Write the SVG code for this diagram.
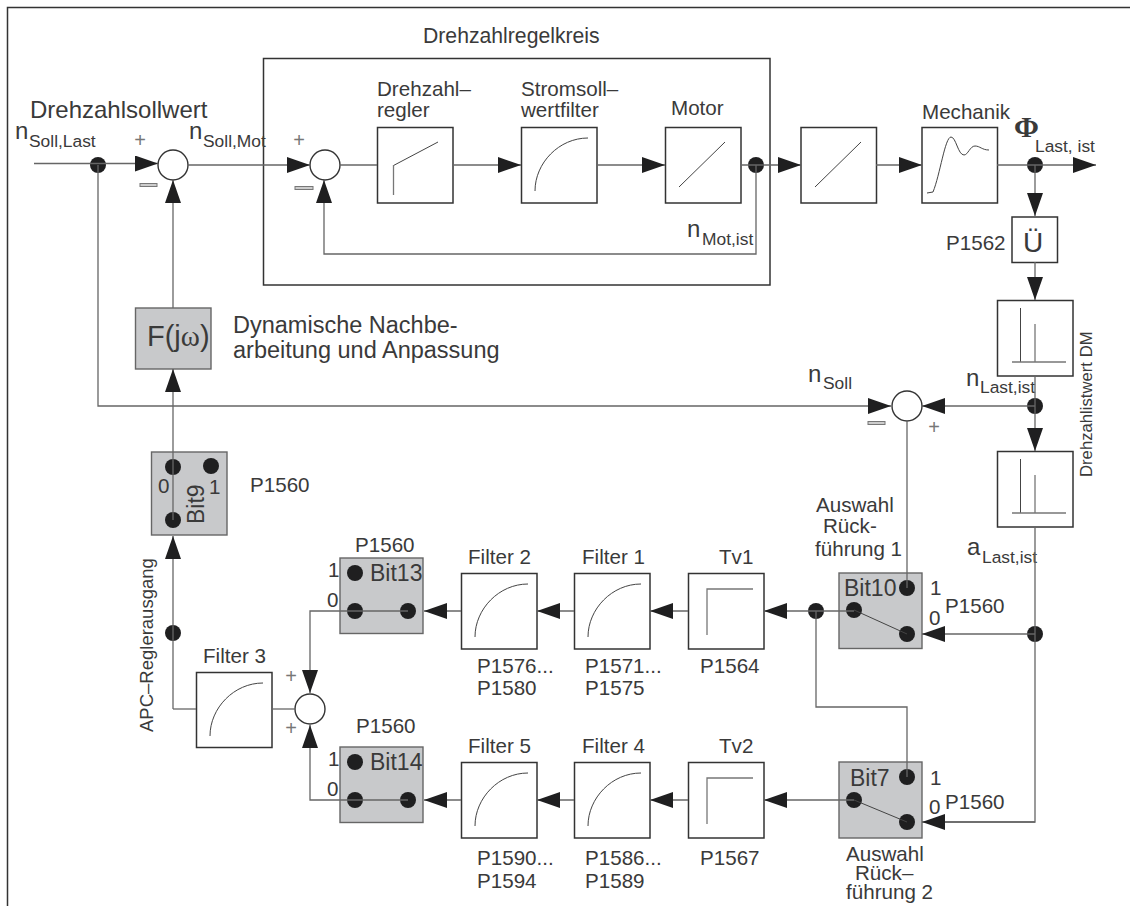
<svg xmlns="http://www.w3.org/2000/svg" width="1130" height="906" viewBox="0 0 1130 906">
<style>
text{font-family:"Liberation Sans",Arial,sans-serif;font-size:20.6px;fill:#3a3a3a}
.sub{font-size:17.4px}
.n{font-size:24px}
.bit{font-size:23px}
.frame{fill:none;stroke:#333;stroke-width:1.5}
.box{fill:#fff;stroke:#333;stroke-width:1.5}
.gray{fill:#c8c9cb;stroke:#666;stroke-width:1.4}
.sum{fill:#fff;stroke:#333;stroke-width:1.4}
.curve{fill:none;stroke:#444;stroke-width:1}
.gline{fill:none;stroke:#777;stroke-width:1.3}
.dot{fill:#1f1f20}
.plus{font-size:20px;fill:#777;text-anchor:middle}
.minus{fill:#ccc;stroke:#777;stroke-width:1}
.c{fill:none;stroke:#666;stroke-width:1.3}
.a{fill:none;stroke:#666;stroke-width:1.3;marker-end:url(#ah)}
</style>
<defs>
<marker id="ah" markerUnits="userSpaceOnUse" markerWidth="24" markerHeight="18" refX="23" refY="8" orient="auto"><path d="M0 0L23 8L0 16Z" fill="#1f1f20"/></marker>
<path id="lag" class="curve" d="M14 64C14 36 38 11 67 11"/>
<path id="tv" class="gline" d="M19 62V16H65"/>
<g id="diff"><path class="curve" d="M23.500 8V62"/><path class="gline" d="M38 24V62M15 62H69"/></g>
</defs>

<path id="page-frame" class="frame" d="M7.500 906V7.500H1130"/>
<g id="regelkreis"><rect class="frame" x="263.500" y="58.500" width="506.500" height="226.500"/><text x="423" y="43" style="font-size:21.200px">Drehzahlregelkreis</text></g>

<g id="sollwert-label"><text x="30" y="118" style="font-size:24px">Drehzahlsollwert</text><text x="15" y="139" class="n">n</text><text x="29" y="147" class="sub">Soll,Last</text></g>
<g id="sum1"><circle class="sum" cx="173" cy="165" r="15"/><text class="plus" x="140" y="147">+</text><rect class="minus" x="140" y="183.500" width="17" height="3"/></g>
<g id="soll-mot-label"><text x="189" y="139" class="n">n</text><text x="203" y="147" class="sub">Soll,Mot</text></g>
<g id="sum2"><circle class="sum" cx="325" cy="165" r="15"/><text class="plus" x="299" y="147">+</text><rect class="minus" x="295" y="186.500" width="18" height="3"/></g>

<g id="drehzahlregler"><rect class="box" x="377.500" y="127.500" width="75.500" height="75.500"/><path class="curve" d="M393.500 165.500L438 142"/><path class="gline" d="M393.500 195V165"/><text x="377" y="96">Drehzahl–</text><text x="377" y="117">regler</text></g>
<g id="stromsollwertfilter" transform="translate(521 127)"><rect class="box" x="0.500" y="0.500" width="75.500" height="75.500"/><use href="#lag"/><text x="0" y="-31">Stromsoll–</text><text x="0" y="-10">wertfilter</text></g>
<g id="motor"><rect class="box" x="665.500" y="127.500" width="75.500" height="75.500"/><path class="curve" d="M679 187L725 142"/><text x="671" y="115">Motor</text><text x="687" y="237" class="n">n</text><text x="702" y="245" class="sub">Mot,ist</text></g>
<g id="block-linear"><rect class="box" x="801" y="127.500" width="75.500" height="75.500"/><path class="curve" d="M815 187L861 142"/></g>
<g id="mechanik"><rect class="box" x="922" y="127.500" width="75.500" height="75.500"/><path class="curve" d="M927 193L933 192C940 175 945 137 951 137C956 137 958 155 964 155C968 155 970 146 975 146C980 146 982 150 989 150"/><text x="922" y="119">Mechanik</text><text x="1014" y="137" style="font-family:'Liberation Serif',serif;font-size:30px;font-weight:bold">Φ</text><text x="1035" y="152" class="sub">Last, ist</text></g>
<g id="uebersetzung"><rect class="box" x="1012" y="217" width="45.500" height="45.500"/><text x="1033" y="252" text-anchor="middle" style="font-size:28px">Ü</text><text x="946" y="250">P1562</text></g>
<g id="diff1" transform="translate(997 300)"><rect class="box" x="0.500" y="0.500" width="75.500" height="75.500"/><use href="#diff"/></g>
<g id="diff2" transform="translate(997 451)"><rect class="box" x="0.500" y="0.500" width="75.500" height="75.500"/><use href="#diff"/></g>
<text id="drehzahlistwert-label" transform="translate(1092 477) rotate(-90)" style="font-size:16.700px">Drehzahlistwert DM</text>

<g id="fjw"><rect class="gray" x="135.500" y="308" width="75.500" height="61"/><text x="147" y="346" style="font-size:29px">F(j<tspan style="font-family:'Liberation Serif',serif;font-size:29px">ω</tspan>)</text></g>
<g id="nachbearbeitung-label"><text x="233" y="333" style="font-size:23.500px">Dynamische Nachbe-</text><text x="233" y="358" style="font-size:23.500px">arbeitung und Anpassung</text></g>

<g id="sum3"><circle class="sum" cx="907" cy="406" r="15"/><text class="plus" x="934" y="434">+</text><rect class="minus" x="868" y="421.500" width="17" height="3"/><text x="808" y="382" class="n">n</text><text x="823" y="389" class="sub">Soll</text><text x="966" y="386" class="n">n</text><text x="980" y="393" class="sub">Last,ist</text></g>
<g id="a-last-label"><text x="967" y="555" class="n">a</text><text x="982" y="563" class="sub">Last,ist</text></g>

<g id="bit9"><rect class="gray" x="151.500" y="452" width="75.500" height="83"/><circle class="dot" cx="173" cy="467" r="8"/><circle class="dot" cx="211" cy="466" r="8"/><circle class="dot" cx="173" cy="520" r="8"/><text x="158" y="493">0</text><text x="209" y="494">1</text><text class="bit" transform="translate(204 524) rotate(-90)">Bit9</text><text x="250" y="492">P1560</text></g>
<text id="apc-label" transform="translate(153 732) rotate(-90)" style="font-size:18.500px">APC–Reglerausgang</text>

<g id="bit13"><rect class="gray" x="340" y="558" width="83" height="75.500"/><circle class="dot" cx="355" cy="573" r="8"/><circle class="dot" cx="355" cy="611" r="8"/><circle class="dot" cx="408" cy="611" r="8"/><text x="355" y="552">P1560</text><text x="328" y="577">1</text><text x="327" y="607">0</text><text x="370" y="581" class="bit">Bit13</text></g>
<g id="bit14"><rect class="gray" x="340" y="747" width="83" height="75.500"/><circle class="dot" cx="355" cy="762" r="8"/><circle class="dot" cx="355" cy="800" r="8"/><circle class="dot" cx="408" cy="800" r="8"/><text x="356" y="733">P1560</text><text x="328" y="766">1</text><text x="327" y="796">0</text><text x="370" y="770" class="bit">Bit14</text></g>
<g id="filter3" transform="translate(196 672)"><rect class="box" x="0.500" y="0.500" width="75.500" height="75"/><use href="#lag"/><text x="7" y="-9">Filter 3</text></g>
<g id="sum4"><circle class="sum" cx="310" cy="709" r="15"/><text class="plus" x="291" y="683">+</text><text class="plus" x="291" y="735">+</text></g>

<g id="filter2" transform="translate(461 573)"><rect class="box" x="0.500" y="0.500" width="75.500" height="75.500"/><use href="#lag"/><text x="7" y="-9">Filter 2</text><text x="16" y="100">P1576...</text><text x="16" y="122">P1580</text></g>
<g id="filter1" transform="translate(574 573)"><rect class="box" x="0.500" y="0.500" width="75.500" height="75.500"/><use href="#lag"/><text x="8" y="-9">Filter 1</text><text x="11" y="100">P1571...</text><text x="11" y="122">P1575</text></g>
<g id="tv1" transform="translate(688 573)"><rect class="box" x="0.500" y="0.500" width="75.500" height="75.500"/><use href="#tv"/><text x="31" y="-9">Tv1</text><text x="12" y="100">P1564</text></g>
<g id="filter5" transform="translate(461 762)"><rect class="box" x="0.500" y="0.500" width="75.500" height="75.500"/><use href="#lag"/><text x="7" y="-9">Filter 5</text><text x="16" y="103">P1590...</text><text x="16" y="126">P1594</text></g>
<g id="filter4" transform="translate(574 762)"><rect class="box" x="0.500" y="0.500" width="75.500" height="75.500"/><use href="#lag"/><text x="8" y="-9">Filter 4</text><text x="11" y="103">P1586...</text><text x="11" y="126">P1589</text></g>
<g id="tv2" transform="translate(688 762)"><rect class="box" x="0.500" y="0.500" width="75.500" height="75.500"/><use href="#tv"/><text x="31" y="-9">Tv2</text><text x="12" y="103">P1567</text></g>

<g id="bit10"><rect class="gray" x="839" y="573" width="83" height="75.500"/><circle class="dot" cx="854" cy="610" r="8"/><circle class="dot" cx="907" cy="588" r="8"/><circle class="dot" cx="907" cy="634" r="8"/><text x="844" y="596" class="bit">Bit10</text><text x="930" y="595">1</text><text x="929" y="625">0</text><text x="945" y="613">P1560</text><text x="816" y="512">Auswahl</text><text x="823" y="533">Rück-</text><text x="815" y="556">führung 1</text></g>
<g id="bit7"><rect class="gray" x="839" y="762" width="83" height="76"/><circle class="dot" cx="854" cy="800" r="8"/><circle class="dot" cx="907" cy="777" r="8"/><circle class="dot" cx="907" cy="822" r="8"/><text x="850" y="786" class="bit">Bit7</text><text x="930" y="785">1</text><text x="929" y="814">0</text><text x="945" y="809">P1560</text><text x="846" y="861">Auswahl</text><text x="855" y="880">Rück–</text><text x="846" y="899">führung 2</text></g>

<g id="junctions"><circle class="dot" cx="98" cy="165" r="8"/><circle class="dot" cx="756" cy="165" r="8"/><circle class="dot" cx="1035" cy="165" r="8"/><circle class="dot" cx="1035" cy="406" r="8"/><circle class="dot" cx="1035" cy="634" r="8"/><circle class="dot" cx="816" cy="611" r="8"/><circle class="dot" cx="173" cy="633" r="8"/></g>

<g id="connectors">
<path class="a" d="M34 163.500H158"/>
<path class="c" d="M188 165H263"/>
<path class="a" d="M263 165H310"/>
<path class="c" d="M340 165H377"/>
<path class="a" d="M453 165H521"/>
<path class="a" d="M597 165H665"/>
<path class="a" d="M741 165H801"/>
<path class="a" d="M876 165H922"/>
<path class="a" d="M997 165H1096"/>
<path class="a" d="M1035 165V216"/>
<path class="a" d="M1035 262V300"/>
<path class="a" d="M1035 376V451"/>
<path class="c" d="M1035 527V822H945"/>
<path class="a" d="M1035 822H922"/>
<path class="a" d="M1035 634H922"/>
<path class="a" d="M1035 406H922"/>
<path class="a" d="M98 165V406H891"/>
<path class="c" d="M907 421V588"/>
<path class="a" d="M173 308V180"/>
<path class="a" d="M173 520V369"/>
<path class="a" d="M173 709V536"/>
<path class="c" d="M173 709H196"/>
<path class="c" d="M272 709H295"/>
<path class="a" d="M756 165V254H324V180"/>
<path class="a" d="M408 611H310V693"/>
<path class="a" d="M408 800H310V725"/>
<path class="a" d="M461 611H424"/>
<path class="a" d="M574 611H537"/>
<path class="a" d="M688 611H650"/>
<path class="a" d="M854 611H764"/>
<path class="a" d="M461 800H424"/>
<path class="a" d="M574 800H537"/>
<path class="a" d="M688 800H650"/>
<path class="a" d="M854 800H764"/>
<path class="c" d="M816 611V707H907V777"/>
<path class="curve" d="M854 610L907 634M854 800L907 822"/>
</g>
</svg>
